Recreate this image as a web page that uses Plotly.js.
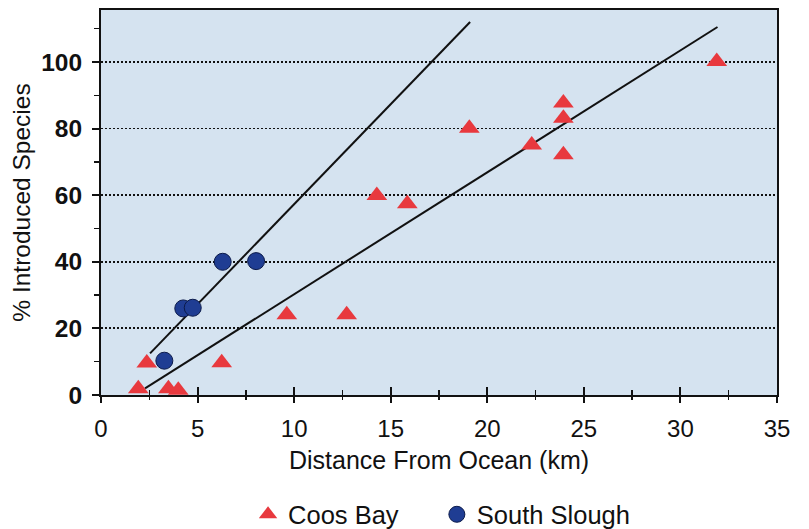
<!DOCTYPE html>
<html>
<head>
<meta charset="utf-8">
<script src="https://cdn.plot.ly/plotly-3.0.1.min.js"></script>
<style>html,body{margin:0;padding:0;background:#fff;}#chart{width:809px;height:529px;}</style>
</head>
<body>
<div id="chart"></div>
<script>
// Coos Bay stations
var coosDistance = [1.93, 2.37, 3.49, 4.0, 6.25, 9.62, 12.72, 14.28, 15.86, 19.07, 22.3, 23.94, 23.94, 23.94, 31.88];
var coosPercent  = [1.9, 9.6, 1.9, 1.4, 9.7, 24.1, 24.1, 59.9, 57.4, 80.1, 75.1, 87.7, 83.1, 72.1, 100.1];
// South Slough stations
var sloughDistance = [3.28, 4.26, 4.75, 6.30, 8.03];
var sloughPercent  = [10.3, 26.0, 26.2, 40.0, 40.2];
// Fitted lines (end points)
var coosFitX = [2.28, 31.92];
var coosFitY = [2.0, 110.5];
var sloughFitX = [2.54, 19.11];
var sloughFitY = [12.5, 112.0];
// Axis ticks
var xTicks = [0, 5, 10, 15, 20, 25, 30, 35];
var yTicks = [0, 20, 40, 60, 80, 100];

var FONT = 'Liberation Sans, Arial, Helvetica, sans-serif';

var traces = [
  {x: coosFitX, y: coosFitY, mode: 'lines', line: {color: '#111', width: 2}, showlegend: false, hoverinfo: 'skip'},
  {x: sloughFitX, y: sloughFitY, mode: 'lines', line: {color: '#111', width: 2}, showlegend: false, hoverinfo: 'skip'},
  {x: coosDistance, y: coosPercent, mode: 'markers', name: 'Coos Bay', legend: 'legend',
   marker: {symbol: 'triangle-up', size: 18, color: '#e8393e', line: {width: 0}}},
  {x: sloughDistance, y: sloughPercent, mode: 'markers', name: 'South Slough', legend: 'legend2',
   marker: {symbol: 'circle', size: 17, color: '#1f3d93', line: {color: '#0b1a4a', width: 1}}},
  {x: [null], y: [null], xaxis: 'x2', mode: 'markers', showlegend: false, hoverinfo: 'skip'}
];

var legendBase = {orientation: 'h', xref: 'container', yref: 'container',
  xanchor: 'left', y: 0.027, yanchor: 'middle',
  font: {family: FONT, size: 25.5, color: '#111'}, bgcolor: 'rgba(0,0,0,0)'};

var layout = {
  width: 809, height: 529,
  margin: {l: 101, r: 32, t: 10, b: 134},
  paper_bgcolor: '#ffffff',
  plot_bgcolor: '#d5e3f0',
  font: {family: FONT, size: 24, color: '#111'},
  showlegend: true,
  legend: Object.assign({}, legendBase, {x: 0.3066}),
  legend2: Object.assign({}, legendBase, {x: 0.540}),
  xaxis: {
    range: [0, 35], tickvals: xTicks, ticktext: xTicks.map(String), automargin: false,
    ticks: 'outside', ticklen: 6, tickwidth: 2, tickcolor: '#111', ticklabelstandoff: 5,
    minor: {dtick: 2.5, tick0: 0, ticks: 'outside', ticklen: 3, tickwidth: 1.5, tickcolor: '#111', showgrid: false},
    showline: true, linecolor: '#111', linewidth: 2, mirror: true,
    showgrid: false, zeroline: false,
    tickfont: {family: FONT, size: 24, color: '#111'},
    title: {text: 'Distance From Ocean (km)', font: {family: FONT, size: 25, color: '#111'}, standoff: 11}
  },
  xaxis2: {
    overlaying: 'x', anchor: 'y', side: 'bottom', range: [0, 35], automargin: false,
    tickvals: xTicks, showticklabels: false,
    ticks: 'inside', ticklen: 8, tickwidth: 2, tickcolor: '#111',
    minor: {dtick: 2.5, tick0: 0, ticks: 'inside', ticklen: 5, tickwidth: 1.5, tickcolor: '#111', showgrid: false},
    showline: false, showgrid: false, zeroline: false
  },
  yaxis: {
    range: [0, 115.6], tickvals: yTicks, ticktext: yTicks.map(String), automargin: false,
    ticks: 'outside', ticklen: 7, tickwidth: 2, tickcolor: '#111', ticklabelstandoff: 5,
    minor: {dtick: 10, tick0: 0, ticks: 'outside', ticklen: 5, tickwidth: 1.5, tickcolor: '#111', showgrid: false},
    showline: true, linecolor: '#111', linewidth: 2, mirror: true,
    showgrid: true, gridcolor: '#111', gridwidth: 1.8, griddash: '2px,2px',
    zeroline: false,
    tickfont: {family: FONT, size: 24.5, color: '#111', weight: 'bold'},
    title: {text: '% Introduced Species', font: {family: FONT, size: 24.5, color: '#111'}, standoff: 4}
  }
};

Plotly.newPlot('chart', traces, layout, {displayModeBar: false, staticPlot: true});
</script>
</body>
</html>
